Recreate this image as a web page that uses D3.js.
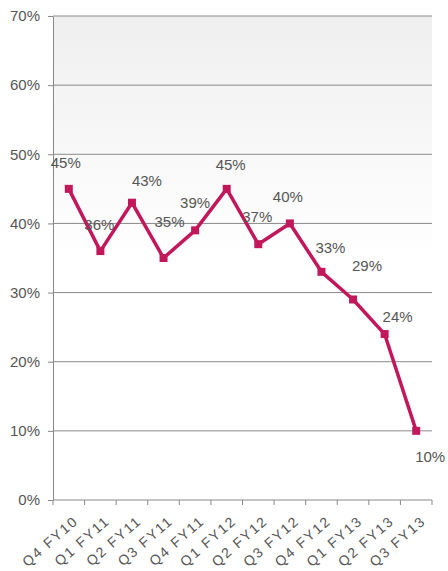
<!DOCTYPE html>
<html><head><meta charset="utf-8">
<script src="https://cdn.jsdelivr.net/npm/d3@7"></script>
<style>body{margin:0;background:#fff;}text{font-family:"Liberation Sans",Arial,sans-serif;}</style>
</head><body>
<svg id="c" width="448" height="571"></svg>
<script>
const categories = ["Q4 FY10","Q1 FY11","Q2 FY11","Q3 FY11","Q4 FY11","Q1 FY12","Q2 FY12","Q3 FY12","Q4 FY12","Q1 FY13","Q2 FY13","Q3 FY13"];
const values = [45,36,43,35,39,45,37,40,33,29,24,10];
const yTicks = [0,10,20,30,40,50,60,70];
// label placement offsets (layout only)
const labelDx = [-3,-1,15,6,0,4,-1,-2,9,14,13,14];
const labelDy = [-21,-21,-17,-31,-22,-19,-22,-21,-19,-28,-12,31];

const svg = d3.select("#c");
const L = 53, R = 432, T = 16, B = 500;
const x = d3.scaleBand().domain(categories).range([L, R]);
const y = d3.scaleLinear().domain([0,70]).range([B, T]);
const cx = d => x(d) + x.bandwidth()/2;

const defs = svg.append("defs");
const g = defs.append("linearGradient").attr("id","bg").attr("x1",0).attr("y1",0).attr("x2",0).attr("y2",1);
g.append("stop").attr("offset","0%").attr("stop-color","#efefef");
g.append("stop").attr("offset","100%").attr("stop-color","#ffffff");
svg.append("rect").attr("x",L).attr("y",y(70)).attr("width",R-L).attr("height",y(35)-y(70)).attr("fill","url(#bg)");

// gridlines + y axis
const ya = svg.append("g").attr("transform",`translate(${L},0)`)
  .call(d3.axisLeft(y).tickValues(yTicks).tickSize(5).tickSizeOuter(0).tickFormat(d=>d+"%"));
ya.select(".domain").attr("stroke","#888");
ya.selectAll(".tick line").attr("stroke","#888");
ya.selectAll(".tick text").attr("font-size",15).attr("fill","#555").attr("x",-13);
svg.append("g").selectAll("line").data(yTicks).join("line")
  .attr("x1",L).attr("x2",R).attr("y1",d=>y(d)).attr("y2",d=>y(d))
  .attr("stroke","#8a8a8a").attr("stroke-width",1);

// x axis ticks
const xtickPos = d3.range(categories.length+1).map(i => L + i*x.bandwidth());
svg.append("g").selectAll("line").data(xtickPos).join("line")
  .attr("x1",d=>d).attr("x2",d=>d).attr("y1",B).attr("y2",B+5).attr("stroke","#888");
svg.append("g").selectAll("text").data(categories).join("text")
  .attr("transform",d=>`translate(${cx(d)+4},${B+15}) rotate(-41)`)
  .attr("text-anchor","end").attr("dy","0.7em").attr("font-size",14).attr("letter-spacing",1.8).attr("fill","#555")
  .text(d=>d);

// line
const pts = categories.map((c,i)=>({c, v: values[i], i}));
svg.append("path").datum(pts)
  .attr("d", d3.line().x(d=>cx(d.c)).y(d=>y(d.v)))
  .attr("fill","none").attr("stroke","#c2185b").attr("stroke-width",3.5).attr("stroke-linejoin","round");
svg.append("g").selectAll("rect").data(pts).join("rect")
  .attr("x",d=>cx(d.c)-4).attr("y",d=>y(d.v)-4).attr("width",8).attr("height",8).attr("fill","#c2185b");

// labels
svg.append("g").selectAll("text").data(pts).join("text")
  .attr("x",d=>cx(d.c)+labelDx[d.i]).attr("y",d=>y(d.v)+labelDy[d.i])
  .attr("text-anchor","middle").attr("font-size",15).attr("fill","#555")
  .text(d=>d.v+"%");
</script>
</body></html>
